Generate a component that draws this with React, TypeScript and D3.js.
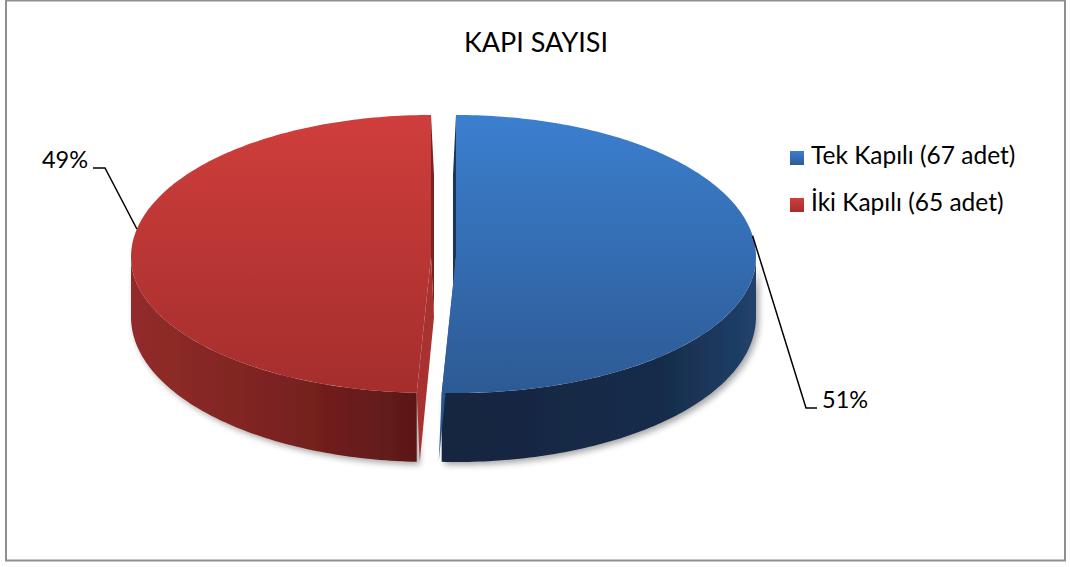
import React from 'react';
import * as d3 from 'd3';

const titleText = 'KAPI SAYISI';
const categories = ['Tek Kapılı (67 adet)', 'İki Kapılı (65 adet)'];
const counts = [67, 65];
const percentLabels = ['51%', '49%'];

const FONT = 'Lato, "Open Sans", sans-serif';

export default function App() {
  const W = 1070, H = 567;
  const arcs = d3.pie<number>().sort(null).startAngle(0).endAngle(2 * Math.PI)(counts);

  const cx0 = 443.5, cy = 257, rx = 300, ryBack = 142, ryFront = 136, explode = 12.5;
  const depth = (t: number) => 60 + 9 * Math.max(0, -Math.cos(t));
  const pt = (cx: number, t: number, down = 0): [number, number] => {
    const c = Math.cos(t);
    const ry = c > 0 ? ryBack : ryFront;
    return [cx + rx * Math.sin(t), cy - ry * c + down];
  };
  const samples = (a0: number, a1: number) => {
    const n = Math.max(2, Math.ceil(((a1 - a0) * 180) / Math.PI));
    return d3.range(n + 1).map(i => a0 + ((a1 - a0) * i) / n);
  };
  const line = d3.line();
  const sideHalf = Math.PI / 2;

  const slices = arcs.map((a, i) => {
    const mid = (a.startAngle + a.endAngle) / 2;
    const cx = cx0 + explode * Math.sin(mid);
    const topPts: [number, number][] = [[cx, cy], ...samples(a.startAngle, a.endAngle).map(t => pt(cx, t))];
    const topPath = line(topPts) + 'Z';
    const s0 = Math.max(a.startAngle, sideHalf), s1 = Math.min(a.endAngle, 3 * sideHalf);
    let sidePath = '';
    if (s1 > s0) {
      const ts = samples(s0, s1);
      const up = ts.map(t => pt(cx, t));
      const dn = ts.slice().reverse().map(t => pt(cx, t, depth(t)));
      sidePath = line([...up, ...dn]) + 'Z';
    }
    const dir = Math.sin(mid) > 0 ? -3 : 3;
    const face = (t: number) => {
      const p = pt(cx, t);
      const d0 = depth(Math.PI / 2);
      const d1 = depth(t);
      return line([[cx, cy], p, [p[0] + dir, p[1] + d1], [cx + dir, cy + d0]]) + 'Z';
    };
    const backT = Math.cos(a.startAngle) > 0.99 ? a.startAngle : a.endAngle;
    const frontT = backT === a.startAngle ? a.endAngle : a.startAngle;
    return { i, cx, mid, topPath, sidePath, backFace: face(backT), frontFace: face(frontT) };
  });

  const topFill = ['url(#blueTop)', 'url(#redTop)'];
  const sideFill = ['url(#blueSide)', 'url(#redSide)'];
  const backFaceFill = ['#1b355a', '#7a2321'];
  const frontFaceFill = ['#2a5590', '#a83230'];

  const labelAngleOffset = [-10, 10];
  const labelText = [
    { x: 822, y: 408, anchor: 'start', elbow: [[806, 408], [817, 408]] },
    { x: 88, y: 168, anchor: 'end', elbow: [[105, 168], [93, 168]] },
  ];

  return (
    <svg width={W} height={H} style={{ position: 'absolute', left: 0, top: 0, background: '#fff' }}>
      <defs>
        <linearGradient id="blueTop" x1="0" y1="0" x2="0" y2="1">
          <stop offset="0" stopColor="#3b7fcf" />
          <stop offset="1" stopColor="#2d5a94" />
        </linearGradient>
        <linearGradient id="redTop" x1="0" y1="0" x2="0" y2="1">
          <stop offset="0" stopColor="#cf3e3c" />
          <stop offset="1" stopColor="#a42e2c" />
        </linearGradient>
        <linearGradient id="blueSide" x1="0" y1="0" x2="1" y2="0">
          <stop offset="0" stopColor="#13253f" />
          <stop offset="0.7" stopColor="#172c4a" />
          <stop offset="1" stopColor="#21416b" />
        </linearGradient>
        <linearGradient id="redSide" x1="0" y1="0" x2="1" y2="0">
          <stop offset="0" stopColor="#922c2a" />
          <stop offset="0.5" stopColor="#7c2321" />
          <stop offset="1" stopColor="#5c1818" />
        </linearGradient>
        <filter id="shadow" x="-10%" y="-10%" width="120%" height="130%">
          <feDropShadow dx="3" dy="3" stdDeviation="3" floodColor="#000" floodOpacity="0.35" />
        </filter>
      </defs>
      <rect x={6} y={0.5} width={1059} height={560} fill="#fff" stroke="#8f8f8f" strokeWidth={2} />
      <text x={536} y={52} textAnchor="middle" fontFamily={FONT} fontSize={27} fill="#000">{titleText}</text>

      {slices.map(s => (
        <path key={'b' + s.i} d={s.backFace} fill={backFaceFill[s.i]} />
      ))}
      {slices.map(s => (
        <g key={'s' + s.i} filter="url(#shadow)">
          {s.sidePath && <path d={s.sidePath} fill={sideFill[s.i]} />}
        </g>
      ))}
      {slices.map(s => (
        <path key={'f' + s.i} d={s.frontFace} fill={frontFaceFill[s.i]} />
      ))}
      {slices.map(s => (
        <path key={'t' + s.i} d={s.topPath} fill={topFill[s.i]} />
      ))}

      {slices.map(s => {
        const t = s.mid + (labelAngleOffset[s.i] * Math.PI) / 180;
        const anchor = pt(s.cx, t);
        const L = labelText[s.i];
        const pts: [number, number][] = [anchor, L.elbow[0] as [number, number], L.elbow[1] as [number, number]];
        return (
          <g key={'l' + s.i}>
            <path d={line(pts) || ''} fill="none" stroke="#000" strokeWidth={1.5} />
            <text x={L.x} y={L.y} textAnchor={L.anchor as any} fontFamily={FONT} fontSize={23.5} fill="#000">
              {percentLabels[s.i]}
            </text>
          </g>
        );
      })}

      {categories.map((c, i) => (
        <g key={'lg' + i}>
          <rect x={790} y={151 + i * 47} width={14} height={14} fill={topFill[i]} />
          <text x={811} y={164 + i * 47} fontFamily={FONT} fontSize={24.5} fill="#000">{c}</text>
        </g>
      ))}
    </svg>
  );
}
